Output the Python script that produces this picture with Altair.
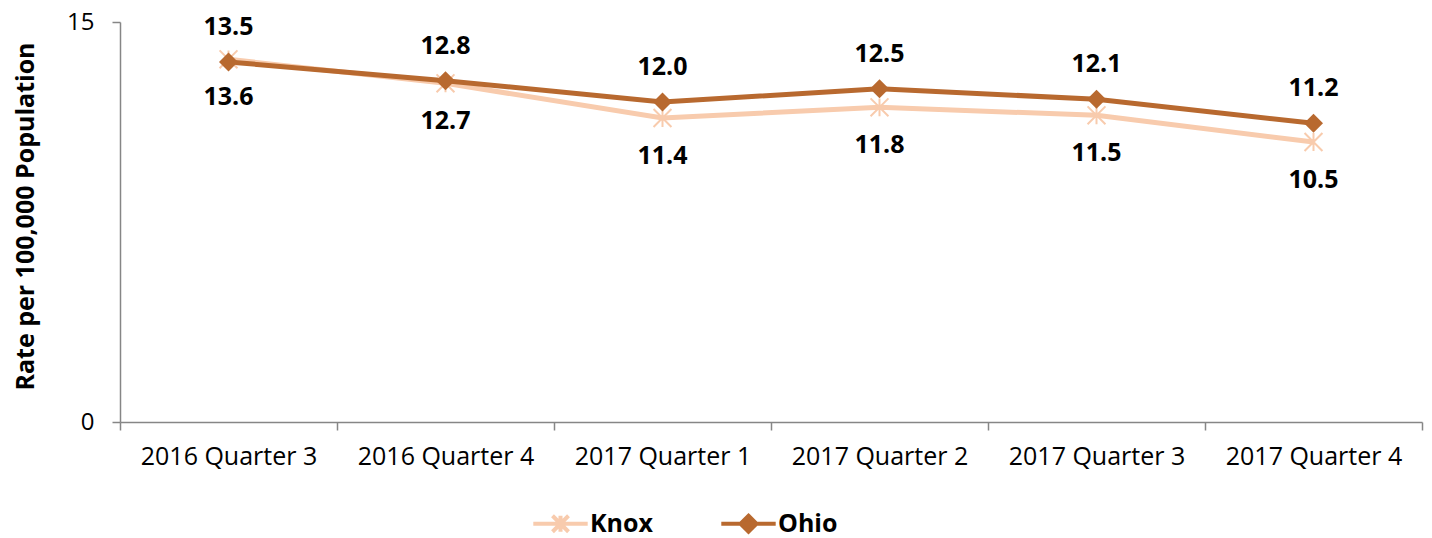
import altair as alt
import pandas as pd

quarters = ["2016 Quarter 3", "2016 Quarter 4", "2017 Quarter 1",
            "2017 Quarter 2", "2017 Quarter 3", "2017 Quarter 4"]
knox = [13.6, 12.7, 11.4, 11.8, 11.5, 10.5]
ohio = [13.5, 12.8, 12.0, 12.5, 12.1, 11.2]
series = ["Knox", "Ohio"]
colors = ["#F8CBAD", "#B8692F"]

rows = []
for q, k, o in zip(quarters, knox, ohio):
    rows.append({"quarter": q, "series": "Knox", "value": k, "color": colors[0]})
    rows.append({"quarter": q, "series": "Ohio", "value": o, "color": colors[1]})
df = pd.DataFrame(rows)

FONT = "Open Sans"
x = alt.X("quarter:N", sort=quarters, bandPosition=0.5, title=None,
          scale=alt.Scale(type="band", paddingInner=0, paddingOuter=0),
          axis=alt.Axis(tickBand="extent", labelAngle=0, labelFontSize=25,
                        labelFont=FONT, labelColor="#000000", labelPadding=14,
                        tickSize=8, tickColor="#868686", domainColor="#868686",
                        domainWidth=1.5, tickWidth=1.5))
y = alt.Y("value:Q", title="Rate per 100,000 Population",
          scale=alt.Scale(domain=[0, 15], nice=False, zero=True),
          axis=alt.Axis(values=[0, 15], grid=False, labelFontSize=24, labelFont=FONT,
                        labelColor="#000000", labelPadding=18, tickSize=8,
                        tickColor="#868686", domainColor="#868686",
                        domainWidth=1.5, tickWidth=1.5,
                        titleFont=FONT, titleFontSize=25, titleFontWeight="bold",
                        titleColor="#000000", titleX=-95, titleY=194,
                        titleAngle=270, titleAlign="center", titleBaseline="middle"))
col_id = alt.Color("color:N", scale=None)

base = alt.Chart(df).encode(x=x, y=y)

lines = base.mark_line(strokeWidth=5).encode(color=col_id, detail="series:N")

knox_pts = base.transform_filter(alt.datum.series == "Knox").mark_point(
    shape="M-1,-1L1,1M-1,1L1,-1M0,-1L0,1", size=320, strokeWidth=2,
    opacity=1).encode(color=col_id)
ohio_pts = base.transform_filter(alt.datum.series == "Ohio").mark_point(
    shape="diamond", size=360, filled=True, opacity=1).encode(color=col_id)

ohio_lbl = base.transform_filter(alt.datum.series == "Ohio").mark_text(
    dy=-35, fontSize=25, fontWeight="bold", font=FONT, color="#000000").encode(
    text=alt.Text("value:Q", format=".1f"))
knox_lbl = base.transform_filter(alt.datum.series == "Knox").mark_text(
    dy=38, fontSize=25, fontWeight="bold", font=FONT, color="#000000").encode(
    text=alt.Text("value:Q", format=".1f"))

leg_scale_shape = alt.Scale(domain=series, range=[
    "M-3.4,0H3.4M-1,-1L1,1M-1,1L1,-1M0,-1L0,1",
    "M-3.4,0H3.4M0,-1L1,0L0,1L-1,0Z"])
leg_scale_col = alt.Scale(domain=series, range=colors)
legend = alt.Legend(title=None, orient="none", legendX=428, legendY=489,
                    direction="horizontal", symbolSize=256, symbolStrokeWidth=4,
                    symbolOpacity=1, labelOffset=17, columnPadding=60,
                    labelFont=FONT, labelFontSize=25, labelFontWeight="bold",
                    labelColor="#000000")
leg_layer = base.mark_point(opacity=0, filled=True).encode(
    shape=alt.Shape("series:N", scale=leg_scale_shape, legend=legend),
    fill=alt.Fill("series:N", scale=leg_scale_col, legend=legend),
    stroke=alt.Stroke("series:N", scale=leg_scale_col, legend=legend))

chart = alt.layer(lines, knox_pts, ohio_pts, ohio_lbl, knox_lbl, leg_layer).properties(
    width=1302, height=400,
    autosize=alt.AutoSizeParams(type="none"),
    padding={"left": 112, "top": 14, "right": 2, "bottom": 116},
).configure_view(stroke=None)

chart.save("out.html", embed_options={"renderer": "svg", "actions": False})
